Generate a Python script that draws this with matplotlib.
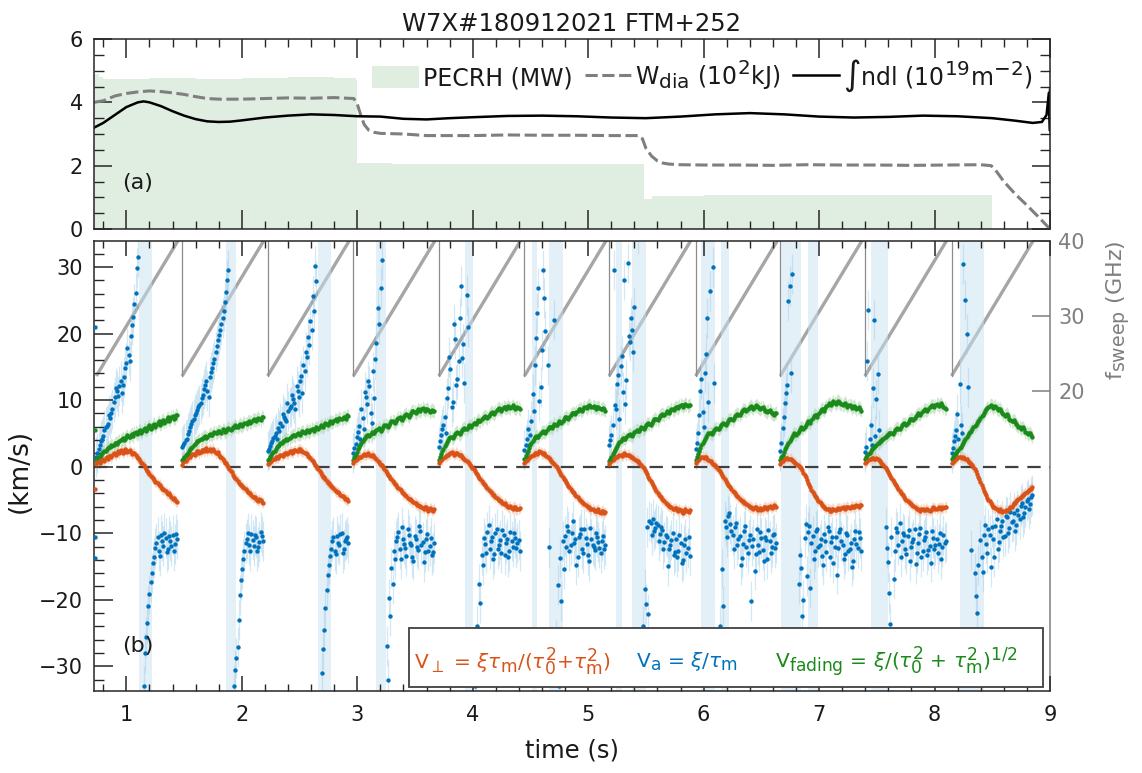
import numpy as np
import matplotlib
matplotlib.use("Agg")
import matplotlib.pyplot as plt
import matplotlib._mathtext as _mt
from matplotlib.patches import Rectangle
from matplotlib.ticker import MultipleLocator

# MATLAB-like (larger) sub/superscripts
_mt.SHRINK_FACTOR = 0.85

plt.rcParams['font.family'] = ['DejaVu Sans']
plt.rcParams['mathtext.fontset'] = 'dejavusans'

# ---------------- panel (a) data ----------------
pecrh_t = [0.72, 0.76, 0.80, 1.2, 1.6, 2.0, 2.4, 2.8, 2.99, 3.00, 3.3, 3.8, 4.3, 4.8, 5.2, 5.47, 5.48, 5.55, 6.0, 6.5, 7.0, 7.5, 8.0, 8.49, 8.50]
pecrh_v = [4.90, 4.80, 4.75, 4.78, 4.74, 4.77, 4.79, 4.76, 4.72, 2.07, 2.05, 2.06, 2.04, 2.05, 2.06, 2.05, 0.95, 1.05, 1.08, 1.07, 1.08, 1.07, 1.08, 1.08, 0.0]

wdia_t = [0.72, 0.8, 0.9, 1.0, 1.1, 1.2, 1.3, 1.4, 1.5, 1.6, 1.7, 1.8, 2.0, 2.2, 2.4, 2.6, 2.8, 2.97, 3.0, 3.03, 3.06, 3.1, 3.15, 3.2, 3.4, 3.6, 3.8, 4.0, 4.3, 4.6, 4.9, 5.2, 5.44, 5.47, 5.5, 5.55, 5.6, 5.65, 5.7, 5.8, 6.0, 6.3, 6.6, 6.9, 7.2, 7.5, 7.8, 8.1, 8.4, 8.49, 8.52, 8.56, 8.6, 8.7, 8.8, 8.9, 9.0]
wdia_v = [4.0, 4.05, 4.2, 4.28, 4.33, 4.36, 4.34, 4.3, 4.25, 4.18, 4.12, 4.1, 4.1, 4.12, 4.14, 4.13, 4.15, 4.12, 3.95, 3.6, 3.3, 3.12, 3.05, 3.02, 3.0, 2.95, 2.95, 2.95, 2.97, 2.96, 2.96, 2.95, 2.95, 2.85, 2.55, 2.3, 2.15, 2.08, 2.05, 2.03, 2.02, 2.02, 2.01, 2.03, 2.02, 2.02, 2.01, 2.02, 2.03, 2.0, 1.9, 1.7, 1.5, 1.1, 0.75, 0.38, 0.0]

ndl_t = [0.72, 0.8, 0.9, 1.0, 1.1, 1.15, 1.2, 1.3, 1.4, 1.5, 1.6, 1.7, 1.8, 1.9, 2.0, 2.2, 2.4, 2.6, 2.8, 3.0, 3.2, 3.4, 3.6, 3.8, 4.0, 4.3, 4.6, 4.9, 5.2, 5.5, 5.8, 6.1, 6.4, 6.7, 7.0, 7.3, 7.6, 7.9, 8.2, 8.5, 8.7, 8.85, 8.93, 8.97, 8.99, 9.0, 9.0]
ndl_v = [3.2, 3.35, 3.6, 3.85, 4.0, 4.03, 4.0, 3.88, 3.72, 3.58, 3.47, 3.4, 3.38, 3.39, 3.43, 3.52, 3.58, 3.62, 3.6, 3.56, 3.55, 3.48, 3.46, 3.5, 3.53, 3.57, 3.58, 3.56, 3.52, 3.5, 3.55, 3.62, 3.66, 3.62, 3.55, 3.52, 3.54, 3.58, 3.56, 3.5, 3.42, 3.35, 3.38, 3.6, 4.3, 3.1, 4.4]

# ---------------- panel (b) data ----------------
sweep_start = [0.74, 1.483, 2.224, 2.966, 3.707, 4.448, 5.181, 5.931, 6.664, 7.397, 8.147]
sweep_dur = 0.745
f_sweep_lo = 22.0
f_sweep_hi = 41.0

# sample times inside each sweep (s after sweep start), two interleaved sets
phase = [0.00, 0.02, 0.04, 0.06, 0.08, 0.10, 0.12, 0.14, 0.16, 0.18, 0.20, 0.22,
         0.24, 0.26, 0.28, 0.30, 0.32, 0.34, 0.36, 0.38, 0.40, 0.42, 0.44, 0.46,
         0.48, 0.50, 0.52, 0.54, 0.56, 0.58, 0.60, 0.62, 0.64, 0.66, 0.68, 0.70]
phase_b = [0.01, 0.03, 0.05, 0.07, 0.09, 0.11, 0.13, 0.15, 0.17, 0.19, 0.21, 0.23,
           0.25, 0.27, 0.29, 0.31, 0.33, 0.35, 0.37, 0.39, 0.41, 0.43, 0.45, 0.47,
           0.49, 0.51, 0.53, 0.55, 0.57, 0.59, 0.61, 0.63, 0.65, 0.67, 0.69]

v_perp = [
    [0.4,0.7,0.9,1.0,1.3,1.2,1.6,1.7,1.9,2.1,2.0,2.4, 2.2,2.5,2.3,2.2,2.0,1.7,1.3,0.9,0.5,0.0,-0.6,-1.1, -1.5,-2.0,-2.3,-2.8,-3.0,-3.4,-3.7,-4.1,-4.3,-4.8,-5.0,-5.3],
    [0.3,0.8,1.2,1.4,1.7,1.9,2.1,2.3,2.2,2.5,2.6,2.4, 2.7,2.5,2.3,2.1,1.8,1.4,0.9,0.5,0.0,-0.6,-1.2,-1.7, -2.1,-2.6,-2.9,-3.2,-3.6,-3.9,-4.2,-4.6,-4.8,-5.1,-5.0,-5.4],
    [0.4,0.7,1.0,1.2,1.4,1.6,1.7,1.9,2.1,2.0,2.3,2.2, 2.5,2.4,2.6,2.3,2.1,1.9,1.5,1.0,0.6,0.1,-0.4,-1.0, -1.5,-1.9,-2.4,-2.7,-3.1,-3.5,-3.8,-4.0,-4.4,-4.6,-4.9,-5.1],
    [0.5,1.0,1.3,1.5,1.7,1.8,1.9,1.8,1.7,1.5,1.1,0.7, 0.3,-0.1,-0.6,-1.2,-1.7,-2.1,-2.6,-3.0,-3.3,-3.8,-4.1,-4.4, -4.8,-5.0,-5.3,-5.5,-5.8,-5.9,-6.2,-6.0,-6.4,-6.2,-6.5,-6.3],
    [0.6,1.0,1.3,1.6,1.8,2.0,2.1,1.9,2.0,1.8,1.5,1.2, 0.9,0.5,0.1,-0.3,-0.9,-1.4,-1.9,-2.4,-2.8,-3.2,-3.7,-4.0, -4.3,-4.7,-5.0,-5.2,-5.6,-5.7,-6.0,-5.9,-6.3,-6.1,-6.4,-6.2],
    [0.5,1.0,1.4,1.6,1.8,2.0,2.1,2.2,1.9,1.8,1.5,1.1, 0.7,0.4,-0.1,-0.7,-1.2,-1.8,-2.3,-2.9,-3.3,-3.8,-4.2,-4.6, -5.0,-5.3,-5.6,-5.9,-6.1,-6.4,-6.5,-6.7,-6.4,-6.9,-6.6,-6.8],
    [0.4,0.9,1.2,1.5,1.6,1.8,1.7,1.9,1.8,1.6,1.4,1.2, 0.9,0.6,0.2,-0.2,-0.8,-1.5,-2.1,-2.8,-3.4,-3.9,-4.4,-4.9, -5.2,-5.6,-5.9,-6.1,-6.4,-6.2,-6.6,-6.5,-6.9,-6.4,-6.7,-6.5],
    [0.5,1.0,1.3,1.5,1.4,1.2,0.9,0.6,0.3,0.0,-0.5,-1.0, -1.6,-2.1,-2.7,-3.1,-3.6,-4.0,-4.4,-4.8,-5.1,-5.4,-5.6,-5.9, -6.0,-6.3,-6.1,-6.5,-6.2,-6.4,-6.0,-6.3,-5.9,-6.2,-5.8,-6.0],
    [0.4,0.9,1.2,1.3,1.1,1.0,0.7,0.4,0.1,-0.2,-0.9,-1.6, -2.4,-3.1,-3.8,-4.4,-4.9,-5.3,-5.7,-6.0,-6.3,-6.4,-6.6,-6.3, -6.5,-6.2,-6.4,-6.1,-6.3,-6.0,-6.2,-5.9,-6.1,-5.8,-6.0,-5.8],
    [0.5,0.9,1.1,1.3,1.2,1.3,1.0,0.6,0.2,-0.2,-0.8,-1.4, -2.0,-2.6,-3.1,-3.6,-4.1,-4.6,-5.0,-5.3,-5.6,-5.9,-6.2,-6.4, -6.6,-6.3,-6.5,-6.4,-6.6,-6.3,-6.2,-6.4,-6.1,-6.3,-6.2,-6.0],
    [0.5,0.9,1.2,1.4,1.5,1.4,1.2,0.9,0.6,0.2,-0.3,-1.1, -1.9,-2.8,-3.6,-4.3,-5.0,-5.5,-6.0,-6.2,-6.5,-6.4,-6.8,-6.6, -6.7,-6.3,-6.0,-5.5,-5.2,-4.9,-4.5,-4.2,-4.0,-3.6,-3.4,-3.1],
]
v_perp_b = [
    [0.8,0.6,1.1,0.9,1.5,1.6,1.4,2.0,1.8,2.3,2.5,2.1, 2.6,2.2,2.5,1.9,2.1,1.4,1.2,0.6,0.3,-0.4,-0.8,-1.4, -1.7,-2.3,-2.5,-2.7,-3.3,-3.5,-4.0,-4.0,-4.6,-4.7,-5.2],
    [0.7,0.9,1.4,1.5,1.9,1.8,2.3,2.0,2.5,2.3,2.8,2.5, 2.4,2.7,2.0,2.2,1.5,1.2,0.6,0.3,-0.3,-0.8,-1.5,-1.8, -2.4,-2.7,-3.1,-3.3,-3.8,-4.0,-4.5,-4.5,-5.0,-4.9,-5.3],
    [0.6,0.9,1.1,1.4,1.3,1.8,1.6,2.1,1.9,2.3,2.1,2.5, 2.3,2.7,2.4,2.2,2.0,1.6,1.3,0.8,0.3,-0.2,-0.7,-1.3, -1.6,-2.2,-2.5,-2.9,-3.2,-3.7,-3.8,-4.3,-4.4,-4.8,-4.9],
    [0.8,1.1,1.5,1.4,1.9,1.7,2.0,1.6,1.8,1.3,0.9,0.4, 0.2,-0.4,-0.9,-1.4,-1.9,-2.4,-2.8,-3.2,-3.5,-4.0,-4.2,-4.7, -4.9,-5.2,-5.4,-5.7,-5.9,-6.1,-6.3,-6.1,-6.6,-6.3,-6.6],
    [0.9,1.1,1.5,1.7,1.9,2.2,1.8,2.1,1.7,1.7,1.3,1.0, 0.7,0.3,-0.2,-0.6,-1.1,-1.7,-2.1,-2.6,-3.0,-3.5,-3.8,-4.2, -4.5,-4.8,-5.1,-5.4,-5.5,-5.9,-6.1,-6.2,-6.0,-6.4,-6.3],
    [0.8,1.2,1.5,1.7,2.0,1.9,2.3,2.0,2.0,1.6,1.3,0.9, 0.6,0.1,-0.4,-0.9,-1.5,-2.0,-2.6,-3.1,-3.6,-4.0,-4.4,-4.8, -5.2,-5.4,-5.8,-6.0,-6.3,-6.3,-6.6,-6.6,-6.8,-6.7,-7.0],
    [0.7,1.0,1.4,1.4,1.8,1.6,2.0,1.7,1.8,1.4,1.3,1.0, 0.8,0.4,-0.1,-0.5,-1.1,-1.8,-2.5,-3.1,-3.6,-4.2,-4.6,-5.0, -5.4,-5.8,-6.0,-6.3,-6.2,-6.5,-6.4,-6.8,-6.6,-6.6,-6.8],
    [0.8,1.2,1.5,1.3,1.5,1.0,0.8,0.4,0.2,-0.3,-0.7,-1.3, -1.9,-2.4,-2.9,-3.4,-3.8,-4.2,-4.6,-5.0,-5.2,-5.5,-5.8,-6.1, -6.2,-6.1,-6.4,-6.3,-6.5,-6.1,-6.2,-6.1,-6.0,-6.0,-5.9],
    [0.7,1.1,1.3,1.2,1.2,0.8,0.6,0.2,0.0,-0.5,-1.3,-2.0, -2.7,-3.5,-4.1,-4.6,-5.1,-5.5,-5.9,-6.2,-6.3,-6.6,-6.4,-6.5, -6.3,-6.3,-6.2,-6.2,-6.1,-6.1,-6.0,-6.0,-5.9,-5.9,-5.7],
    [0.7,1.0,1.2,1.3,1.1,1.2,0.8,0.4,0.0,-0.5,-1.1,-1.7, -2.3,-2.8,-3.4,-3.9,-4.3,-4.8,-5.2,-5.5,-5.7,-6.1,-6.3,-6.5, -6.4,-6.5,-6.3,-6.5,-6.5,-6.1,-6.3,-6.2,-6.2,-6.1,-6.1],
    [0.7,1.1,1.3,1.5,1.3,1.3,1.1,0.7,0.4,-0.1,-0.7,-1.5, -2.3,-3.2,-4.0,-4.7,-5.2,-5.8,-6.1,-6.4,-6.6,-6.6,-6.7,-6.5, -6.5,-6.1,-5.7,-5.4,-5.0,-4.7,-4.4,-4.1,-3.8,-3.5,-3.3],
]

v_fading = [
    [1.0,1.5,1.8,2.2,2.4,2.8,3.0,3.1,3.5,3.4,3.9,4.1, 4.0,4.5,4.4,4.8,4.6,5.2,5.0,5.5,5.3,5.8,5.6,6.2, 5.9,6.4,6.2,6.8,6.5,7.0,6.8,7.4,7.1,7.6,7.3,7.7],
    [1.0,1.4,1.9,2.3,2.8,3.2,3.6,3.9,4.1,4.3,4.6,4.4, 4.9,4.7,5.2,5.0,5.4,5.1,5.5,5.3,5.8,5.5,5.9,6.2, 5.9,6.4,6.1,6.6,6.4,6.9,6.7,7.1,6.9,7.3,7.0,7.4],
    [1.0,1.5,2.0,2.4,2.9,3.3,3.6,3.9,4.2,4.1,4.5,4.8, 4.6,5.0,4.8,5.3,5.0,5.5,5.2,5.7,5.4,5.9,5.7,6.2, 5.9,6.5,6.3,6.8,6.6,7.0,6.9,7.3,7.1,7.5,7.2,7.6],
    [1.0,1.8,2.6,3.3,3.9,4.3,4.8,4.6,5.2,5.0,5.5,5.8, 5.4,6.0,6.3,6.0,6.6,6.9,6.5,7.1,7.4,7.0,7.6,7.9, 7.5,8.1,8.4,8.0,8.6,8.3,8.8,8.4,8.7,8.2,8.5,8.3],
    [1.0,1.9,2.7,3.4,4.0,4.5,4.3,4.9,5.2,4.9,5.5,5.8, 5.6,6.2,6.0,6.6,6.4,7.0,6.8,7.3,7.6,7.3,7.9,8.2, 7.9,8.5,8.8,8.4,9.0,8.7,9.1,8.8,9.2,8.7,9.0,8.6],
    [1.1,2.0,2.8,3.5,4.1,4.6,4.4,5.0,5.3,5.1,5.7,6.0, 5.8,6.4,6.2,6.8,6.6,7.2,7.5,7.2,7.8,8.1,7.9,8.4, 8.7,8.4,9.0,8.8,9.3,8.9,9.1,8.7,9.0,8.6,8.8,8.4],
    [0.8,1.5,2.2,2.8,3.4,3.9,4.3,4.1,4.7,4.9,4.6,5.2, 5.5,5.3,5.9,5.6,6.2,6.5,6.3,6.9,7.2,7.0,7.6,7.9, 7.7,8.3,8.1,8.7,8.5,9.0,8.8,9.3,9.0,9.4,9.1,9.3],
    [1.0,1.9,2.8,3.6,4.2,4.8,5.1,4.9,5.5,5.8,5.6,6.2, 6.5,6.3,6.9,7.2,7.0,7.6,7.9,7.7,8.3,8.6,8.3,8.8, 9.1,8.7,9.2,8.9,8.6,8.9,8.4,8.2,8.5,8.0,7.8,8.1],
    [1.0,1.8,2.6,3.3,3.9,4.5,5.0,4.8,5.4,5.9,5.7,6.3, 6.8,6.6,7.3,7.8,7.5,8.2,8.7,8.4,9.1,9.5,9.2,9.8, 9.4,9.9,9.5,9.2,9.6,9.0,9.3,8.8,9.1,8.6,8.9,8.4],
    [1.2,1.7,2.1,2.6,2.9,3.3,3.6,3.9,4.2,4.5,4.8,5.1, 4.9,5.5,5.8,5.6,6.2,6.5,6.3,6.9,7.2,7.0,7.6,8.0, 7.8,8.3,8.6,8.4,8.9,9.2,8.9,9.4,9.1,9.5,8.9,8.6],
    [1.2,1.6,2.1,2.5,3.0,3.6,4.1,4.7,5.2,5.6,6.1,6.5, 7.0,7.6,8.0,8.6,8.9,9.3,8.8,9.1,8.5,8.7,8.1,7.6, 7.9,7.2,6.8,7.0,6.4,6.0,5.7,5.9,5.2,4.9,5.1,4.5],
]
v_fading_b = [
    [1.3,1.6,2.1,2.3,2.6,2.9,3.3,3.2,3.6,3.7,4.0,4.3, 4.2,4.7,4.5,4.9,5.1,4.9,5.4,5.1,5.6,5.4,6.0,5.7, 6.3,6.0,6.6,6.3,6.9,6.6,7.2,6.9,7.5,7.2,7.8],
    [1.2,1.7,2.1,2.6,3.0,3.4,3.8,4.0,4.2,4.5,4.3,4.7, 4.8,5.0,5.1,5.3,5.2,5.6,5.2,5.6,5.7,5.7,6.0,6.0, 6.2,6.2,6.4,6.5,6.7,6.6,7.0,7.0,7.2,7.1,7.5],
    [1.2,1.8,2.2,2.7,3.1,3.5,3.8,4.0,4.0,4.3,4.6,4.7, 4.9,4.9,5.1,5.2,5.3,5.3,5.5,5.6,5.7,5.8,6.0,6.1, 6.2,6.4,6.6,6.7,6.8,7.1,7.1,7.2,7.3,7.4,7.7],
    [1.4,2.2,3.0,3.6,4.1,4.6,4.7,4.9,5.1,5.3,5.6,5.6, 5.7,6.2,6.1,6.3,6.8,6.7,6.8,7.3,7.2,7.3,7.8,7.7, 7.8,8.3,8.2,8.3,8.5,8.6,8.6,8.6,8.5,8.4,8.4],
    [1.5,2.3,3.1,3.7,4.3,4.4,4.6,5.1,5.0,5.2,5.7,5.7, 5.9,6.1,6.3,6.5,6.7,6.9,7.1,7.5,7.4,7.6,8.1,8.0, 8.2,8.7,8.6,8.7,8.9,8.9,8.9,9.0,8.9,8.8,8.8],
    [1.6,2.4,3.2,3.8,4.4,4.5,4.7,5.2,5.2,5.4,5.9,5.9, 6.1,6.3,6.5,6.7,6.9,7.4,7.3,7.5,8.0,8.0,8.2,8.6, 8.5,8.7,8.9,9.1,9.1,9.0,8.9,8.9,8.8,8.7,8.6],
    [1.2,1.9,2.5,3.1,3.7,4.1,4.2,4.4,4.8,4.7,4.9,5.4, 5.4,5.6,5.8,5.9,6.4,6.4,6.6,7.1,7.1,7.3,7.8,7.8, 8.0,8.2,8.4,8.6,8.8,8.9,9.1,9.2,9.2,9.3,9.2],
    [1.5,2.4,3.2,3.9,4.5,5.0,5.0,5.2,5.7,5.7,5.9,6.4, 6.4,6.6,7.1,7.1,7.3,7.8,7.8,8.0,8.5,8.5,8.6,9.0, 8.9,9.0,9.1,8.8,8.8,8.6,8.3,8.4,8.2,7.9,8.0],
    [1.4,2.2,3.0,3.6,4.2,4.8,4.9,5.1,5.7,5.8,6.0,6.6, 6.7,7.0,7.6,7.7,7.9,8.5,8.6,8.8,9.3,9.4,9.5,9.6, 9.7,9.7,9.4,9.4,9.3,9.2,9.1,9.0,8.9,8.8,8.7],
    [1.5,1.9,2.4,2.8,3.1,3.5,3.8,4.1,4.4,4.7,5.0,5.0, 5.2,5.7,5.7,5.9,6.4,6.4,6.6,7.1,7.1,7.3,7.8,7.9, 8.1,8.5,8.5,8.7,9.1,9.1,9.2,9.3,9.3,9.2,8.8],
    [1.4,1.9,2.3,2.8,3.3,3.9,4.4,5.0,5.4,5.9,6.3,6.8, 7.3,7.8,8.3,8.8,9.1,9.1,9.0,8.8,8.6,8.4,7.9,7.8, 7.6,7.0,6.9,6.7,6.2,5.9,5.8,5.6,5.1,5.0,4.8],
]

v_a = [
    [1.5,2.6,3.8,4.6,5.9,6.4,7.3,8.6,10.4,11.3,12.1,11.0, 13.4,15.6,16.7,19.6,22.5,26.1,31.5,45.0,-45.0,-28.0,-23.5,-19.2, -16.0,-13.6,-11.4,-12.6,-10.3,-11.9,-10.7,-12.3,-11.1,-10.2,-11.6,-10.9],
    [2.9,3.5,4.2,5.3,6.4,7.1,8.0,8.9,9.6,10.8,12.2,11.3, 13.5,14.8,16.2,18.1,19.8,21.5,23.4,26.3,29.6,45.0,-45.0,-30.5, -27.1,-19.3,-15.4,-12.6,-10.8,-11.7,-10.1,-11.9,-10.6,-12.0,-9.8,-11.2],
    [2.3,3.1,3.9,4.6,4.2,5.3,6.1,7.4,6.8,8.3,9.1,10.2, 8.7,11.4,12.8,11.1,14.3,16.4,18.3,20.6,23.4,27.9,45.0,-45.0, -27.4,-21.3,-16.2,-13.4,-11.2,-12.6,-10.4,-11.8,-9.9,-12.4,-10.8,-11.5],
    [2.1,3.4,5.2,4.1,7.3,11.2,9.4,12.1,6.5,10.3,18.6,21.4, 26.8,45.0,-45.0,-32.0,-22.4,-17.6,-13.8,-10.5,-12.3,-9.1,-11.6,-13.4, -10.2,-11.8,-14.1,-10.9,-12.5,-9.6,-11.3,-12.8,-10.1,-11.9,-13.2,-11.4],
    [3.0,4.8,6.2,5.1,11.8,14.6,9.7,19.2,13.1,22.4,16.3,12.5, 25.8,45.0,45.0,-45.0,-31.0,-27.2,-20.5,-14.8,-11.6,-9.8,-12.4,-10.5, -13.1,-9.3,-11.7,-12.9,-10.2,-11.4,-13.6,-9.8,-12.1,-10.7,-11.5,-12.6],
    [2.5,4.1,3.2,6.8,8.4,19.3,26.8,12.0,29.5,20.4,15.2,45.0, 45.0,22.0,-45.0,-33.0,-20.2,-15.4,-12.1,-9.6,-11.8,-8.2,-10.9,-13.5, -10.1,-12.4,-9.3,-11.6,-14.2,-10.8,-12.0,-9.9,-11.3,-13.0,-10.4,-11.7],
    [3.2,4.8,29.5,8.6,13.8,15.1,11.2,9.4,30.6,18.8,20.5,24.0, 45.0,45.0,-45.0,-30.0,-20.7,-22.1,-8.4,-7.9,-9.2,-8.8,-10.1,-9.5, -11.3,-10.6,-12.4,-11.0,-13.2,-10.8,-12.7,-11.5,-14.0,-10.9,-12.2,-13.4],
    [2.6,5.1,11.4,8.2,14.0,22.3,26.4,45.0,12.6,45.0,-45.0,-28.0, -21.0,-9.0,-7.4,-8.6,-10.2,-9.1,-11.8,-10.4,-13.7,-9.6,-12.1,-11.0, -20.2,-10.8,-13.1,-11.7,-9.8,-12.5,-10.6,-13.9,-11.2,-12.0,-10.1,-11.4],
    [2.4,5.8,9.6,12.3,27.1,29.0,45.0,-45.0,-17.7,-15.2,-20.1,-8.6, -9.8,-18.2,-10.4,-12.6,-9.3,-11.7,-13.4,-10.1,-12.8,-9.7,-11.3,-14.5, -10.6,-12.2,-9.4,-11.8,-13.1,-10.3,-12.4,-15.0,-10.9,-11.6,-9.8,-12.7],
    [2.2,15.9,4.1,3.3,22.0,10.2,5.5,45.0,-45.0,-9.1,-14.3,-23.7, -28.0,-12.6,-9.8,-8.4,-11.2,-10.3,-13.1,-9.5,-12.0,-10.8,-14.6,-11.4, -9.2,-12.7,-10.5,-13.3,-11.9,-9.7,-12.3,-10.9,-11.6,-13.8,-10.2,-11.1],
    [2.0,3.8,5.5,4.2,6.3,30.5,25.0,12.0,45.0,-45.0,-16.0,-22.0, -27.0,-13.5,-10.2,-11.6,-9.4,-15.1,-10.8,-8.9,-12.3,-9.6,-8.1,-10.4, -7.6,-9.2,-8.3,-6.9,-8.8,-7.2,-5.9,-7.5,-6.1,-4.8,-5.6,-4.2],
]
v_a_b = [
    [2.0,3.2,4.1,5.5,6.1,7.8,8.1,9.7,11.8,10.6,12.9,12.3, 14.8,17.9,15.9,21.3,24.4,29.8,45.0,-45.0,-33.0,-25.6,-21.0,-17.4, -14.5,-12.2,-10.5,-13.4,-11.2,-9.9,-12.8,-10.4,-11.9,-12.7,-10.1],
    [3.3,4.0,4.9,5.9,6.8,7.7,8.5,9.2,10.3,11.6,12.8,10.5, 14.2,15.6,17.3,19.0,20.6,22.4,24.8,28.0,45.0,-45.0,-33.0,-28.8, -23.1,-17.0,-13.8,-11.5,-9.9,-12.6,-11.0,-10.3,-12.7,-11.3,-10.4],
    [2.7,3.6,4.3,5.0,5.8,6.6,7.9,7.1,9.5,8.8,10.8,9.6, 12.1,10.4,13.6,15.2,17.3,19.5,21.9,25.7,30.1,45.0,-45.0,-31.0, -24.5,-18.6,-14.7,-12.3,-10.6,-13.1,-11.4,-10.1,-12.9,-11.1,-10.6],
    [2.8,4.4,6.1,8.6,5.7,10.4,12.9,8.1,14.3,16.1,23.9,45.0, 31.0,-45.0,-27.0,-19.8,-15.2,-12.7,-11.1,-9.8,-13.9,-10.8,-12.2,-9.3, -11.5,-13.6,-10.4,-12.1,-8.9,-11.7,-14.3,-10.8,-12.6,-10.7,-12.8],
    [3.9,5.6,7.4,10.3,16.5,8.9,21.5,12.2,15.8,27.1,18.4,45.0, 21.0,45.0,-45.0,-33.0,-24.0,-17.6,-13.2,-10.7,-12.9,-8.8,-11.2,-13.8, -10.0,-12.3,-11.0,-9.5,-13.2,-10.9,-12.7,-11.2,-9.9,-12.2,-11.0],
    [3.3,5.6,4.7,10.9,15.2,23.1,9.8,17.5,25.4,45.0,-12.0,45.0, -45.0,-26.0,-17.8,-13.7,-11.1,-10.4,-8.9,-12.6,-9.9,-11.5,-14.8,-10.6, -9.4,-12.9,-10.7,-13.3,-9.2,-11.8,-12.5,-10.6,-12.2,-11.1,-12.3],
    [4.0,6.3,9.2,12.4,7.1,16.6,28.1,13.0,19.6,22.3,17.2,45.0, 35.0,-45.0,-24.0,-18.4,-9.0,-8.1,-10.3,-9.7,-8.5,-11.2,-9.0,-12.3, -10.2,-14.9,-11.7,-9.9,-12.8,-13.6,-10.3,-14.4,-11.8,-12.9,-10.6],
    [3.5,7.8,13.2,5.9,17.0,9.7,45.0,30.0,45.0,-45.0,-24.0,-15.3, -8.1,-10.5,-7.0,-9.7,-12.3,-8.4,-10.9,-14.8,-11.6,-8.9,-13.0,-10.2, -11.9,-15.6,-9.4,-12.8,-10.7,-14.2,-11.0,-9.5,-12.9,-10.3,-12.2],
    [3.6,7.4,11.1,24.9,14.0,45.0,45.0,-45.0,-13.3,-22.5,-10.7,-16.4, -8.9,-11.5,-13.9,-9.6,-12.1,-10.8,-14.8,-11.2,-9.0,-13.6,-10.5,-12.0, -16.2,-9.8,-11.1,-13.9,-10.0,-12.6,-11.4,-14.1,-9.6,-12.2,-10.7],
    [3.0,23.5,6.2,11.8,4.6,13.9,45.0,-45.0,-30.0,-12.2,-19.0,-10.6, -16.8,-9.2,-11.7,-13.5,-9.9,-12.4,-10.4,-14.2,-11.3,-9.4,-12.9,-10.1, -13.6,-11.0,-9.8,-12.5,-14.4,-10.7,-11.8,-13.0,-9.9,-12.1,-11.4],
    [2.8,4.6,7.9,12.4,5.0,45.0,20.0,-45.0,-12.5,-30.0,-19.5,-14.8, -11.0,-15.8,-8.7,-12.9,-10.2,-9.1,-13.6,-7.9,-11.3,-8.9,-10.6,-7.4, -9.9,-6.8,-8.1,-9.6,-6.5,-7.8,-5.5,-6.9,-5.2,-6.3,-4.6],
]

# points at the very left edge (end of the preceding sweep)
pre_t = [0.725, 0.725, 0.725]
pre_a = [21.0, -10.6, -13.7]
pre_perp = [-3.3]
pre_fading = [5.5]

# time windows where the V_a uncertainty spans the whole range
va_band_t0 = [1.11, 1.86, 2.66, 3.16, 3.93, 4.51, 4.66, 5.24, 5.38, 5.98, 6.15, 6.67, 6.90, 7.45, 8.22]
va_band_t1 = [1.22, 1.95, 2.77, 3.25, 4.00, 4.56, 4.78, 5.29, 5.50, 6.10, 6.22, 6.84, 6.99, 7.60, 8.43]

for lst in (v_perp, v_fading, v_a):
    for row in lst:
        assert len(row) == len(phase), len(row)
for lst in (v_perp_b, v_fading_b, v_a_b):
    for row in lst:
        assert len(row) == len(phase_b), len(row)

# ---------------- styling ----------------
C_PERP = '#D95319'
C_A = '#0072BD'
C_FAD = '#1A8A1A'
C_AX = '#262626'
C_TXT = '#1a1a1a'
C_GRAY = '#7f7f7f'
MS = 10

W, H = 1142, 773
fig = plt.figure(figsize=(W / 100, H / 100), dpi=100)

def frac(x0, y0, x1, y1):
    return [x0 / W, 1 - y1 / H, (x1 - x0) / W, (y1 - y0) / H]

axa = fig.add_axes(frac(94, 39, 1050, 229))
axb = fig.add_axes(frac(94, 241, 1050, 691))

XLIM = (0.72, 9.0)

# ---- panel (a)
axa.fill_between(pecrh_t, 0, pecrh_v, step='post', color='#dfeee0', lw=0,
                 label='PECRH (MW)')
axa.plot(wdia_t, wdia_v, color=C_GRAY, lw=2.2, dashes=(4, 1.5),
         label=r'W$_{\rm dia}$ (10$^{2}$kJ)')
axa.plot(ndl_t, ndl_v, color='black', lw=1.8,
         label=r'∫ndl (10$^{19}$m$^{-2}$)')
axa.set_xlim(*XLIM)
axa.set_ylim(0, 6)
axa.set_yticks([0, 2, 4, 6])
axa.yaxis.set_minor_locator(MultipleLocator(0.5))
axa.xaxis.set_major_locator(MultipleLocator(1))
axa.xaxis.set_minor_locator(MultipleLocator(0.2))
axa.tick_params(axis='both', which='both', direction='in', top=True, right=True,
                color=C_AX, labelsize=15, labelcolor=C_TXT)
axa.tick_params(axis='x', which='major', length=14, width=1.1, labelbottom=False)
axa.tick_params(axis='x', which='minor', length=6, width=1.0)
axa.tick_params(axis='y', which='major', length=13, width=1.1, pad=8)
axa.tick_params(axis='y', which='minor', length=7, width=1.0)
for s in axa.spines.values():
    s.set_color(C_AX); s.set_linewidth(1.1)
axa.set_title('W7X#180912021 FTM+252', fontsize=17.5, color=C_TXT, pad=6)
axa.text(0.965, 1.25, '(a)', fontsize=16, color=C_TXT)
leg = axa.legend(loc='center right', bbox_to_anchor=(0.985, 0.805), ncol=3,
                 frameon=False, fontsize=17, handlelength=1.95, handleheight=1.1,
                 handletextpad=0.2, columnspacing=0.5, borderaxespad=0.0,
                 borderpad=0.1)
for t in leg.get_texts():
    t.set_color(C_TXT)

# ---- panel (b)
ax2 = axb.twinx()
axb.set_zorder(ax2.get_zorder() + 1)
axb.patch.set_visible(False)

# sweep frequency sawtooth (right axis)
for i, ts in enumerate(sweep_start):
    ax2.plot([ts, ts + sweep_dur], [f_sweep_lo, f_sweep_hi], color='#a6a6a6',
             lw=2.4, solid_capstyle='butt')
    if i > 0:
        ax2.plot([ts, ts], [f_sweep_lo, f_sweep_hi], color='#8c8c8c', lw=0.9)
ax2.set_ylim(-20, 40)
ax2.set_yticks([20, 30, 40])
ax2.tick_params(axis='y', direction='in', length=13, width=1.1, color=C_GRAY,
                labelcolor=C_GRAY, labelsize=15, pad=6)
ax2.set_ylabel(r'f$_{\rm sweep}$ (GHz)', color=C_GRAY, fontsize=16)
ax2.yaxis.set_label_coords(1.057, 0.845)
for k, s in ax2.spines.items():
    s.set_visible(k == 'right')
ax2.spines['right'].set_color(C_GRAY)
ax2.spines['right'].set_linewidth(1.1)

for t0, t1 in zip(va_band_t0, va_band_t1):
    axb.axvspan(t0, t1, color='#c9e2f3', alpha=0.5, lw=0, zorder=0.5)

for ph_list, VA, VP, VF in ((phase, v_a, v_perp, v_fading),
                            (phase_b, v_a_b, v_perp_b, v_fading_b)):
    ph = np.array(ph_list)
    for i, ts in enumerate(sweep_start):
        tt = ts + ph
        va = np.array(VA[i]); vp = np.array(VP[i]); vf = np.array(VF[i])
        axb.vlines(tt, va - 3.0, va + 3.0, color='#9fcbe8', lw=0.9, alpha=0.45, zorder=1)
        axb.vlines(tt, vp - 0.8, vp + 0.8, color='#f3b99c', lw=0.9, alpha=0.5, zorder=1)
        axb.vlines(tt, vf - 1.0, vf + 1.0, color='#a9d6a9', lw=0.9, alpha=0.5, zorder=1)

for ph_list, VA, VP, VF in ((phase, v_a, v_perp, v_fading),
                            (phase_b, v_a_b, v_perp_b, v_fading_b)):
    ph = np.array(ph_list)
    for i, ts in enumerate(sweep_start):
        tt = ts + ph
        axb.scatter(tt, VA[i], s=MS, color=C_A, lw=0, zorder=3)
        axb.scatter(tt, VP[i], s=MS, color=C_PERP, lw=0, zorder=3)
        axb.scatter(tt, VF[i], s=MS, color=C_FAD, lw=0, zorder=3)

axb.scatter(pre_t, pre_a, s=MS, color=C_A, lw=0, zorder=3)
axb.scatter(pre_t[:1], pre_perp, s=MS, color=C_PERP, lw=0, zorder=3)
axb.scatter(pre_t[:1], pre_fading, s=MS, color=C_FAD, lw=0, zorder=3)

axb.axhline(0, color='#404040', lw=1.6, dashes=(6, 4), zorder=2)

axb.set_xlim(*XLIM)
axb.set_ylim(-33.7, 33.9)
axb.set_yticks([-30, -20, -10, 0, 10, 20, 30])
axb.yaxis.set_minor_locator(MultipleLocator(2))
axb.xaxis.set_major_locator(MultipleLocator(1))
axb.xaxis.set_minor_locator(MultipleLocator(0.2))
axb.tick_params(axis='both', which='both', direction='in', top=True, right=False,
                color=C_AX, labelsize=15, labelcolor=C_TXT)
axb.tick_params(axis='x', which='major', length=11, width=1.1, pad=10)
axb.tick_params(axis='x', which='minor', length=5, width=1.0)
axb.tick_params(axis='y', which='major', length=14, width=1.1, pad=8)
axb.tick_params(axis='y', which='minor', length=7, width=1.0)
for k, s in axb.spines.items():
    s.set_color(C_AX); s.set_linewidth(1.1)
axb.spines['right'].set_visible(False)
axb.set_xlabel('time (s)', fontsize=17.5, color=C_TXT)
axb.xaxis.set_label_coords(0.5, -0.105)
axb.set_ylabel('(km/s)', fontsize=19, color=C_TXT)
axb.yaxis.set_label_coords(-0.064, 0.49)
axb.text(0.965, -27.8, '(b)', fontsize=16, color=C_TXT, zorder=6)

# formula box
axb.add_patch(Rectangle((0.329, 0.008), 0.664, 0.132, transform=axb.transAxes,
                        facecolor='white', edgecolor='#404040', lw=1.3, zorder=5))
ybox = 0.066
axb.text(0.335, ybox, r'V$_{\perp}$ = $\xi\tau_{\rm m}$/($\tau_0^2$+$\tau_{\rm m}^2$)',
         transform=axb.transAxes, color=C_PERP, fontsize=14.5, va='center', zorder=6)
axb.text(0.567, ybox, r'V$_{\rm a}$ = $\xi$/$\tau_{\rm m}$',
         transform=axb.transAxes, color=C_A, fontsize=14.5, va='center', zorder=6)
axb.text(0.712, ybox, r'V$_{\rm fading}$ = $\xi$/($\tau_0^2$ + $\tau_{\rm m}^2$)$^{1/2}$',
         transform=axb.transAxes, color=C_FAD, fontsize=14.5, va='center', zorder=6)

fig.savefig('out.png', dpi=100)
